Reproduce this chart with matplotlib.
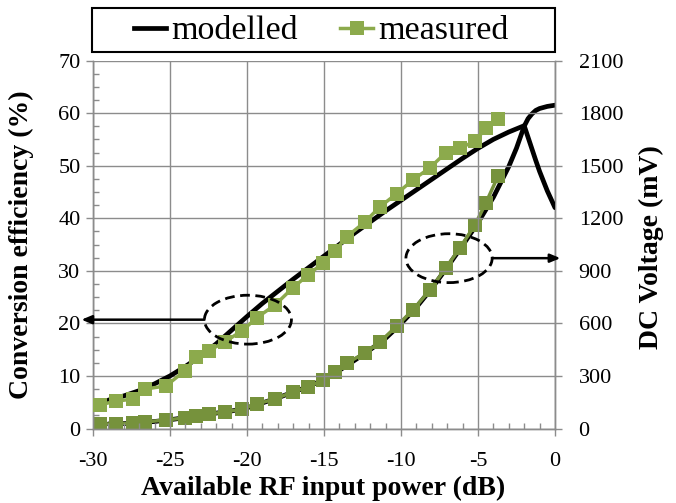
import matplotlib
matplotlib.use("Agg")
import matplotlib.pyplot as plt
from matplotlib.patches import Ellipse, Rectangle
from matplotlib.ticker import MultipleLocator
from matplotlib.lines import Line2D

# ---------------- data ----------------
meas_power = [-29.55, -28.51, -27.40, -26.62, -25.26, -24.03, -23.31, -22.47, -21.43,
              -20.32, -19.35, -18.18, -17.01, -16.04, -15.06, -14.29, -13.51, -12.34,
              -11.36, -10.26, -9.22, -8.12, -7.08, -6.17, -5.19, -4.48, -3.70]
meas_eff = [4.5, 5.2, 5.6, 7.5, 8.1, 11.0, 13.6, 14.8, 16.5,
            18.6, 21.1, 23.5, 26.8, 29.2, 31.5, 33.8, 36.5, 39.3,
            42.2, 44.7, 47.3, 49.6, 52.5, 53.4, 54.6, 57.2, 58.8]
meas_volt = [26, 26, 31, 37, 49, 60, 71, 83, 94,
             111, 140, 169, 209, 237, 277, 323, 374, 431,
             494, 586, 677, 791, 917, 1031, 1163, 1289, 1440]

model_power = [-29, -28, -27, -26, -25, -24, -23, -22, -21, -20, -19, -18, -17, -16,
               -15, -14, -13, -12, -11, -10, -9, -8, -7, -6, -5, -4, -3, -2.5, -2,
               -1.75, -1.5, -1.25, -1, -0.5, 0]
model_eff = [5.4, 6.2, 7.2, 8.5, 10.0, 11.8, 13.8, 16.1, 18.7, 21.3, 23.8, 26.1, 28.4, 30.6,
             32.8, 35.0, 37.2, 39.3, 41.4, 43.4, 45.4, 47.4, 49.4, 51.4, 53.3, 55.0, 56.4, 57.0, 57.6,
             55.4, 53.2, 51.0, 48.9, 45.2, 42.0]
model_volt = [26, 28, 33, 40, 50, 62, 75, 88, 100, 118, 146, 175, 208, 240,
              280, 332, 390, 450, 515, 598, 692, 800, 920, 1045, 1175, 1320, 1495, 1600, 1725,
              1768, 1795, 1815, 1826, 1838, 1845]

legend_labels = ["modelled", "measured"]

# ---------------- style ----------------
plt.rcParams['font.family'] = ['Liberation Serif', 'DejaVu Serif']
GRID = '#8c8c8c'
GREEN1 = '#8CAA4C'
GREEN2 = '#76923C'

fig = plt.figure(figsize=(6.76, 5.03), dpi=100)
W, H = 676, 503
ax = fig.add_axes([93 / W, 1 - 428.5 / H, (555 - 93) / W, (428.5 - 60.5) / H])
ax2 = ax.twinx()

ax.set_xlim(-30, 0)
ax.set_ylim(0, 70)
ax2.set_ylim(0, 2100)

ax.xaxis.set_major_locator(MultipleLocator(5))
ax.xaxis.set_minor_locator(MultipleLocator(1))
ax.yaxis.set_major_locator(MultipleLocator(10))
ax.yaxis.set_minor_locator(MultipleLocator(2.5))
ax2.yaxis.set_major_locator(MultipleLocator(300))

ax.grid(True, which='major', color=GRID, lw=1.0)
ax.set_axisbelow(True)

for a in (ax, ax2):
    for s in a.spines.values():
        s.set_color(GRID)
        s.set_linewidth(1.0)
    a.spines['top'].set_visible(False)

ax.tick_params(axis='both', which='major', direction='out', length=5, width=1, color=GRID,
               labelsize=16, labelcolor='black')
ax.tick_params(axis='x', which='major', pad=12)
ax.tick_params(axis='y', which='major', pad=4)
ax.tick_params(axis='both', which='minor', direction='in', length=4, width=1, color=GRID)
ax2.tick_params(axis='y', which='major', direction='out', length=5, width=1, color=GRID,
                labelsize=16, pad=12, labelcolor='black')
ax2.tick_params(axis='y', which='minor', length=0)

ax.set_xticklabels([f"{int(v)}" for v in ax.get_xticks()])

# ---------------- data lines ----------------
ax.plot(model_power, model_eff, color='black', lw=3.4, solid_capstyle='round',
        solid_joinstyle='round', zorder=3)
ax.plot(meas_power, meas_eff, color=GREEN1, lw=2.5, marker='s', ms=9.5,
        markeredgewidth=0, zorder=4)
ax2.plot(model_power, model_volt, color='black', lw=3.4, solid_capstyle='round',
         solid_joinstyle='round', zorder=3)
ax2.plot(meas_power, meas_volt, color=GREEN2, lw=2.5, marker='s', ms=9.5,
         markeredgewidth=0, zorder=4)

# ---------------- annotations ----------------
e1 = Ellipse((-19.94, 20.7), width=5.65, height=9.3, fill=False, ls=(0, (3.5, 2)),
             lw=2.0, color='black', zorder=6, clip_on=False)
e2 = Ellipse((-6.88, 32.4), width=5.6, height=9.3, fill=False, ls=(0, (3.5, 2)),
             lw=2.0, color='black', zorder=6, clip_on=False)
ax.add_patch(e1)
ax.add_patch(e2)
arrowkw = dict(arrowstyle='-|>,head_length=0.6,head_width=0.25', color='black', lw=1.8,
               shrinkA=0, shrinkB=0)
ax.annotate('', xy=(-30.75, 20.7), xytext=(-22.76, 20.7), arrowprops=arrowkw,
            annotation_clip=False, zorder=7)
ax.annotate('', xy=(0.35, 32.4), xytext=(-4.08, 32.4), arrowprops=arrowkw,
            annotation_clip=False, zorder=7)
ax.set_zorder(2)
ax.patch.set_visible(False)
ax2.set_zorder(1)

# ---------------- labels ----------------
ax.set_xlabel("Available RF input power (dB)", fontsize=20, fontweight='bold')
ax.xaxis.set_label_coords((323 - 93) / 462, (428.5 - 488) / 368)
ax.xaxis.label.set_va('center')
ax.set_ylabel("Conversion efficiency (%)", fontsize=20, fontweight='bold')
ax.yaxis.set_label_coords((21 - 93) / 462, (428.5 - 245) / 368)
ax.yaxis.label.set_va('center')
ax2.set_ylabel("DC Voltage (mV)", fontsize=20, fontweight='bold', rotation=90)
ax2.yaxis.set_label_coords((651 - 93) / 462, (428.5 - 247) / 368)
ax2.yaxis.label.set_va('center')

# ---------------- legend ----------------
handles = [Line2D([], [], color='black', lw=3.4),
           Line2D([], [], color=GREEN1, lw=2.5, marker='s', ms=9.5, markeredgewidth=0)]
leg = fig.legend(handles, legend_labels, loc='center', bbox_to_anchor=(321 / W, 1 - 31 / H),
                 ncol=2, frameon=False, fontsize=24.5, handlelength=0.95,
                 handletextpad=0.15, columnspacing=1.25, borderpad=0.2)
fig.patches.append(Rectangle((92 / W, 1 - 52 / H), (555 - 92) / W, (52 - 8) / H,
                             transform=fig.transFigure, fill=False, ec='black', lw=1.5))

fig.savefig("out.png", dpi=100)
